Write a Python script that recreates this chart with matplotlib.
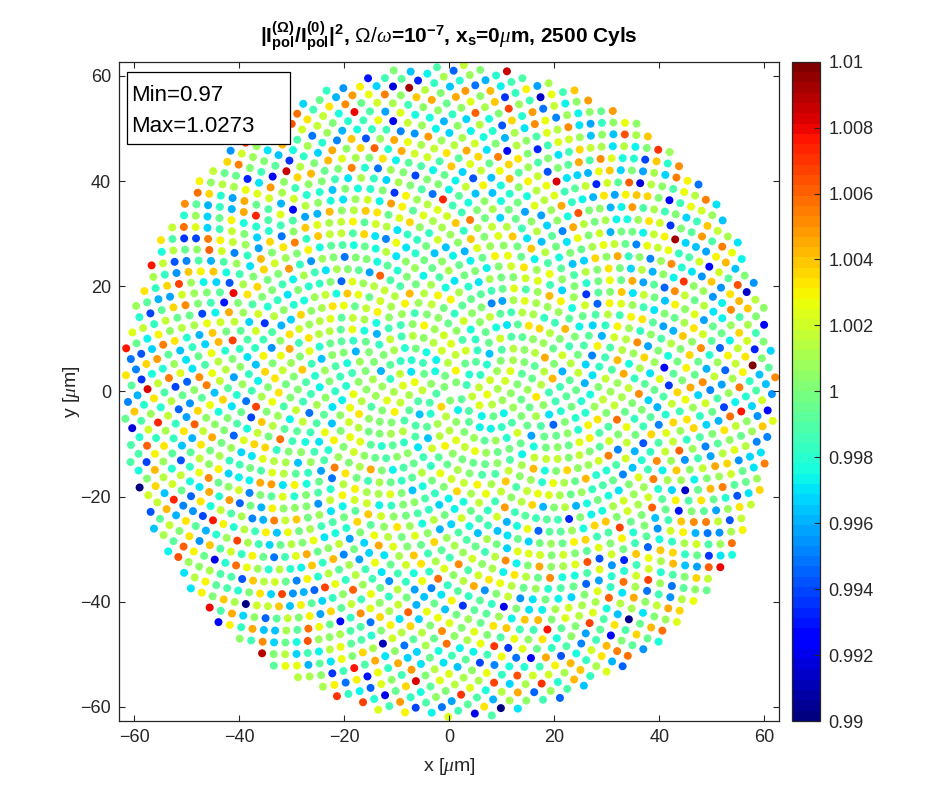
import numpy as np
import matplotlib
matplotlib.use("Agg")
import matplotlib.pyplot as plt
from matplotlib.patches import Rectangle
from matplotlib.ticker import FormatStrFormatter

plt.rcParams['font.family'] = ['Liberation Sans', 'DejaVu Sans']
plt.rcParams['mathtext.fontset'] = 'custom'
plt.rcParams['mathtext.rm'] = 'Liberation Sans'
plt.rcParams['mathtext.bf'] = 'Liberation Sans:bold'
plt.rcParams['mathtext.it'] = 'Liberation Serif:italic'

# ---- data (read/estimated from the reference) ----
n_cyl = 2500
spiral_radius = 62.2          # outer radius of the Vogel spiral [um]
golden_angle_deg = 137.508
# spread of |I|^2 ratio around 1 vs radius (estimated from colour spread)
amp_radius = [0, 15, 30, 45, 55, 63]
amp_value = [0.0013, 0.0017, 0.0023, 0.0030, 0.0035, 0.0037]
# deviation patterns (units of the local spread) cycling along the spiral index
dev_a = [0.1, -0.6, 0.9, -0.2, 0.4, -1.1, 0.0, 1.4, -0.5, 0.2,
         -0.9, 0.6, -0.1, 1.0, -1.5, 0.3, -0.3, 0.7, -0.4]
dev_b = [0.0, 0.8, -0.7, 0.3, -1.3, 0.5, -0.2, 1.2, -0.4, 0.1, -0.9, 1.4,
         -0.6, 0.2, -0.1, 0.6, -1.2, 0.4, -0.3, 0.9, -0.8, 0.2, -0.1]
v_min_txt, v_max_txt = 0.97, 1.0273
clim = (0.99, 1.01)
cbar_ticks = [0.99, 0.992, 0.994, 0.996, 0.998, 1.0, 1.002, 1.004, 1.006, 1.008, 1.01]
axis_ticks = [-60, -40, -20, 0, 20, 40, 60]

# ---- geometry of the cylinders (Vogel spiral) ----
idx = np.arange(1, n_cyl + 1)
r = spiral_radius * np.sqrt(idx / n_cyl)
th = np.deg2rad(golden_angle_deg) * idx
x = r * np.cos(th)
y = r * np.sin(th)
amp = np.interp(r, amp_radius, amp_value)
dev = np.array(dev_a)[idx % len(dev_a)] + np.array(dev_b)[idx % len(dev_b)]
val = 1.0 + amp * dev

# ---- figure ----
W, H = 935, 811
fig = plt.figure(figsize=(W / 100, H / 100), dpi=100)
ax_l, ax_r, ax_t, ax_b = 119.3, 779.3, 61.7, 721.0
ax = fig.add_axes([ax_l / W, 1 - ax_b / H, (ax_r - ax_l) / W, (ax_b - ax_t) / H])
cax = fig.add_axes([792.3 / W, 1 - ax_b / H, 27.7 / W, (ax_b - ax_t) / H])

cmap = plt.get_cmap('jet', 64)
sc = ax.scatter(x, y, c=val, cmap=cmap, vmin=clim[0], vmax=clim[1],
                s=33, edgecolors='none')
ax.set_xlim(-62.86, 62.86)
ax.set_ylim(-62.7, 62.7)
ax.set_aspect('auto')
dark = '#262626'
ax.set_xticks(axis_ticks)
ax.set_yticks(axis_ticks)
ax.tick_params(direction='in', length=4, width=0.8, top=True, right=True,
               labelsize=13, colors=dark, pad=6)
for s in ax.spines.values():
    s.set_color(dark)
    s.set_linewidth(0.9)


def ax_x(px):
    return (px - ax_l) / (ax_r - ax_l)


def ax_y(py):
    return (ax_b - py) / (ax_b - ax_t)


ax.set_xlabel(r'x [$\mu$m]', fontsize=14, color=dark)
ax.set_ylabel(r'y [$\mu$m]', fontsize=14, color=dark)
ax.xaxis.set_label_coords(0.5, ax_y(756))
ax.yaxis.set_label_coords(ax_x(82), 0.5)

cb = fig.colorbar(sc, cax=cax, ticks=cbar_ticks)
cb.ax.yaxis.set_major_formatter(FormatStrFormatter('%g'))
cb.ax.tick_params(direction='in', length=4, width=0.8, labelsize=13,
                  colors=dark, pad=6)
cb.outline.set_edgecolor(dark)
cb.outline.set_linewidth(0.9)

# Min / Max box
ax.add_patch(Rectangle((ax_x(126.7), ax_y(143.5)), ax_x(289.5) - ax_x(126.7),
                       ax_y(71.7) - ax_y(143.5), transform=ax.transAxes,
                       facecolor='white', edgecolor='black', linewidth=0.9,
                       zorder=5))
ax.text(ax_x(131), ax_y(101), 'Min=%g' % v_min_txt, transform=ax.transAxes,
        fontsize=16, va='baseline', ha='left', zorder=6)
ax.text(ax_x(131), ax_y(132), 'Max=%g' % v_max_txt, transform=ax.transAxes,
        fontsize=16, va='baseline', ha='left', zorder=6)

title = (r'$\mathbf{|I^{(\Omega)}_{pol}/I^{(0)}_{pol}|^2}$, $\Omega/\omega$=10$^{\mathbf{-7}}$, '
         r'x$_{\mathbf{s}}$=0$\mu$m, 2500 Cyls')
fig.text(449.3 / W, 1 - 43.5 / H, title, fontsize=15, fontweight='bold',
         ha='center', va='baseline', color='black')

fig.savefig('out.png', dpi=100)
